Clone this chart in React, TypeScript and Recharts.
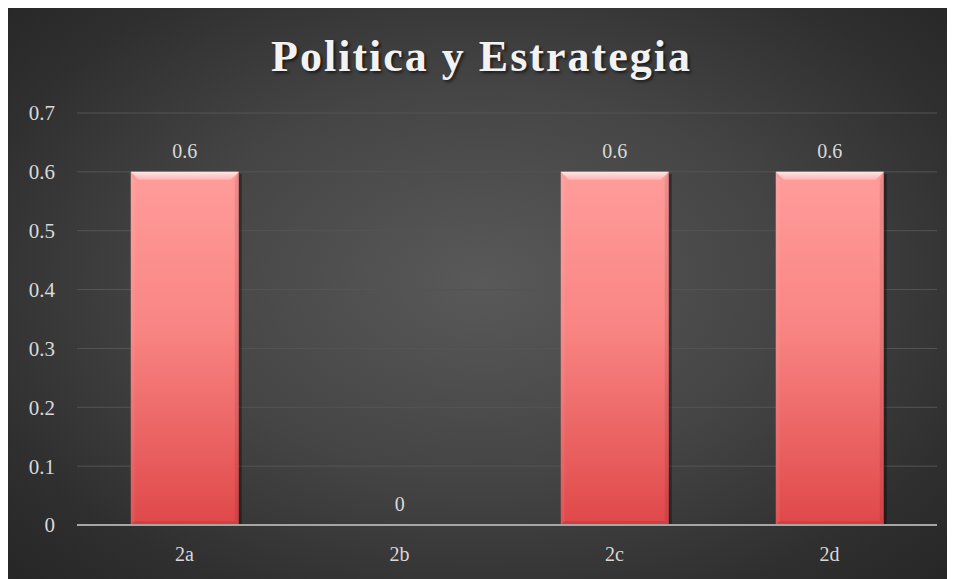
import { Bar, BarChart, CartesianGrid, LabelList, XAxis, YAxis } from "recharts";

// datos del gráfico
const categorias = ["2a", "2b", "2c", "2d"];
const valores = [0.6, 0, 0.6, 0.6];
const ticksY = [0, 0.1, 0.2, 0.3, 0.4, 0.5, 0.6, 0.7];

const data = categorias.map((c, i) => ({ name: c, valor: valores[i] }));

const FUENTE = "'Liberation Serif', 'DejaVu Serif', serif";

// barra con bisel, como el estilo de Excel
const BarraBisel = (props: any) => {
  const { x, y, width, height } = props;
  if (!height || height <= 0) return null;
  const b = Math.min(8, height / 2);
  const s = 4;
  return (
    <g>
      <rect x={x + 3} y={y + 2} width={width} height={height - 2} fill="rgba(0,0,0,0.35)" />
      <rect x={x} y={y} width={width} height={height} fill="url(#gradBarra)" />
      <polygon
        points={`${x},${y} ${x + width},${y} ${x + width - b},${y + b} ${x + b},${y + b}`}
        fill="url(#gradBiselSup)"
      />
      <polygon
        points={`${x},${y} ${x + s},${y + b} ${x + s},${y + height - s} ${x},${y + height}`}
        fill="rgba(255,255,255,0.06)"
      />
      <polygon
        points={`${x + width},${y} ${x + width},${y + height} ${x + width - s},${y + height - s} ${x + width - s},${y + b}`}
        fill="rgba(80,0,0,0.1)"
      />
      <polygon
        points={`${x},${y + height} ${x + width},${y + height} ${x + width - s},${y + height - s} ${x + s},${y + height - s}`}
        fill="rgba(120,0,0,0.12)"
      />
    </g>
  );
};

export default function App() {
  return (
    <div
      style={{
        position: "relative",
        width: 947,
        height: 571,
        background:
          "radial-gradient(ellipse 70% 75% at 50% 48%, #595959 0%, #454545 45%, #2f2f2f 80%, #262626 100%)",
      }}
    >
      <div
        style={{
          position: "absolute",
          top: 23,
          left: 0,
          width: 947,
          textAlign: "center",
          fontFamily: FUENTE,
          fontWeight: "bold",
          fontSize: 44,
          letterSpacing: 2,
          color: "#f2f2f2",
          textShadow: "2px 2px 3px rgba(0,0,0,0.6)",
        }}
      >
        Politica y Estrategia
      </div>
      <BarChart
        width={947}
        height={571}
        data={data}
        margin={{ top: 105, right: 18, left: 0, bottom: 14 }}
        barCategoryGap="25%"
      >
        <defs>
          <linearGradient id="gradBarra" x1="0" y1="0" x2="0" y2="1">
            <stop offset="0%" stopColor="#ff9d9b" />
            <stop offset="45%" stopColor="#f88482" />
            <stop offset="100%" stopColor="#e0484a" />
          </linearGradient>
          <linearGradient id="gradBiselSup" x1="0" y1="0" x2="0" y2="1">
            <stop offset="0%" stopColor="#ffe6e6" />
            <stop offset="100%" stopColor="#ffb3b2" />
          </linearGradient>
        </defs>
        <CartesianGrid vertical={false} stroke="#555555" strokeWidth={1} />
        <XAxis
          dataKey="name"
          axisLine={{ stroke: "#a6a6a6", strokeWidth: 2 }}
          tickLine={false}
          height={40}
          tick={{ fill: "#d9d9d9", fontSize: 20, fontFamily: FUENTE }}
          tickMargin={16}
        />
        <YAxis
          domain={[0, 0.7]}
          ticks={ticksY}
          axisLine={false}
          tickLine={false}
          width={69}
          tick={{ fill: "#d9d9d9", fontSize: 21, fontFamily: FUENTE }}
          tickMargin={16}
        />
        <Bar dataKey="valor" shape={<BarraBisel />} isAnimationActive={false}>
          <LabelList
            dataKey="valor"
            position="top"
            offset={14}
            fill="#d9d9d9"
            fontSize={20}
            fontFamily={FUENTE}
          />
        </Bar>
      </BarChart>
    </div>
  );
}
